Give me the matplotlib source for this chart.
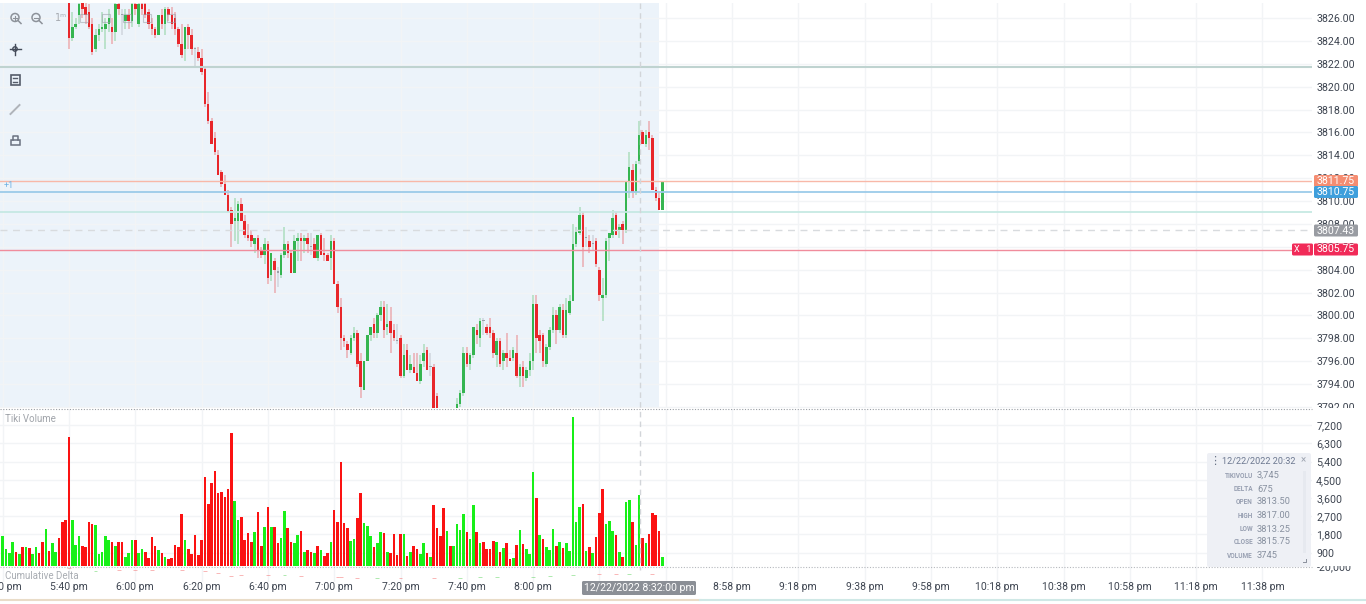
import numpy as np
import matplotlib
matplotlib.use("Agg")
import matplotlib.pyplot as plt
from matplotlib.patches import FancyBboxPatch, Rectangle, Circle

plt.rcParams['font.family'] = ['Roboto', 'DejaVu Sans']

# one bar per minute, candles only come into view at bar 20 (the earlier ones are above the pane)
CANDLE_START = 20

opens = [
    3827.5,3824.25,3825.25,3826.25,3827.5,3827,3826.5,3825.5,3823.25,3824.5,
    3825,3825,3825.5,3825.25,3824.75,3827.25,3826.25,3825.75,3826.25,3825.75,
    3827.25,3825.5,3827.25,3827.25,3826.5,3825.5,3825,3824.5,3826.25,3825.5,
    3826.75,3826.25,3826,3825,3823.75,3823.25,3825.25,3824.5,3823.25,3823,
    3822.5,3821.5,3818.5,3817,3815.5,3814,3812.5,3811.5,3810.5,3809.25,
    3808.25,3808.25,3809.75,3808.25,3807,3807,3806.25,3806.75,3805.75,3805.25,
    3806.25,3803.5,3804.75,3803.75,3803.5,3805.25,3806.25,3805.5,3803.75,3806.5,
    3806.75,3806.5,3806.75,3806,3806.25,3805,3807,3805.5,3805.25,3805,
    3806.5,3802.75,3800.75,3798,3797.5,3796.75,3798,3798.5,3796,3793.5,
    3796,3798.25,3799.25,3798.5,3800,3800.75,3799,3799.5,3798.75,3797.75,
    3798,3794.75,3797,3795.25,3795.5,3795,3794.25,3796,3797,3795.5,
    3795.5,3793,3791.25,3790.75,3791,3790.5,3790.75,3791.5,3792.25,3793.25,
    3796.75,3795.75,3796.5,3798.75,3798,3799.5,3799,3799,3798.5,3796.5,
    3797.75,3796,3796.75,3796.25,3796.25,3796.75,3794.75,3795.5,3794.5,3795.25,
    3796,3801,3798.25,3798.25,3795.75,3797.25,3798.75,3800,3798.75,3800.5,
    3798.25,3800.25,3801.25,3806.25,3807.25,3808.75,3806.75,3806.5,3806.25,3806.5,
    3804,3801.5,3801.75,3806.75,3807,3808.75,3807.5,3808,3807.5,3811.75,
    3812.75,3810.75,3813.5,3816,3815,3816,3815.5,3811,3810.25,3809.25,
]
highs = [
    3828,3826.5,3826,3827.5,3828,3827.5,3827.25,3826,3825,3825.5,
    3826.5,3826,3826.75,3826,3827.5,3827.5,3826.75,3826.75,3826.75,3827.5,
    3827.5,3827.5,3827.5,3827.5,3826.75,3826,3825.25,3826.25,3826.75,3827,
    3827,3827,3826.5,3825.25,3825.5,3825.25,3825.5,3825,3823.5,3823.5,
    3823.25,3821.75,3819.5,3817.25,3816,3814.5,3812.75,3812.25,3811,3809.5,
    3810.25,3810,3810.25,3808.75,3808,3807.5,3806.75,3807,3806,3806.75,
    3806.5,3805.5,3805,3804.25,3805.5,3807.75,3806.5,3805.75,3807,3807.25,
    3807.25,3807,3807.25,3807.25,3806.75,3807,3807.25,3806.75,3805.5,3807,
    3806.75,3803,3801.5,3798.25,3797.75,3798.25,3799,3798.75,3796.75,3796,
    3798.25,3799,3799.75,3800.25,3801.25,3801.25,3801,3800.75,3799.25,3799.25,
    3798.25,3797.5,3797.5,3796.5,3796.75,3796.75,3796.5,3797.5,3797.25,3796.75,
    3795.75,3793.25,3791.5,3791.25,3791.25,3791,3791.25,3792.75,3793.5,3797.25,
    3797.25,3796.75,3799,3799.25,3799.75,3799.75,3799.25,3799.75,3798.75,3798,
    3798,3797,3798.5,3797,3797.25,3798.25,3795.75,3796,3795.5,3796.75,
    3801.75,3801.75,3798.75,3798.5,3797.5,3799,3800.75,3800.5,3801,3801,
    3801.5,3801.75,3808,3807.75,3809.5,3809,3807.75,3807,3807,3806.75,
    3804.25,3803.25,3806.75,3807.25,3809.25,3809,3808,3808.25,3811.75,3814.25,
    3813.25,3813.5,3817,3816.25,3816.25,3817,3815.75,3811.25,3810.75,3811.75,
]
lows = [
    3823.25,3824,3825,3825.5,3826,3825.5,3825,3822.75,3823,3824,
    3824.75,3823.25,3824.75,3823.75,3824,3826.25,3824.5,3825,3825,3825.25,
    3826.25,3825.25,3826.25,3826,3825,3824.5,3824.25,3824.5,3825,3824.5,
    3825.75,3825,3824.5,3823.5,3822.5,3822.25,3823.25,3822.75,3821.75,3822.25,
    3821,3818.25,3816.75,3815,3814,3812.25,3811.25,3810.5,3809,3806,
    3806.5,3806.25,3808.25,3806.75,3806.5,3806,3805.5,3805,3805,3804.5,
    3802.75,3803,3802,3802.5,3803.25,3805,3805,3803.75,3803.75,3804.75,
    3804.75,3805.5,3805.5,3805.25,3805.25,3804.75,3805.25,3804.75,3804.75,3804,
    3802.75,3800.25,3797,3797.25,3796.25,3796.5,3797.75,3795.5,3792.75,3793.5,
    3796,3797.75,3798,3798,3799.5,3798,3798.25,3796.75,3797.75,3797.5,
    3794.5,3794.5,3795.25,3795,3795,3794.25,3794,3795.5,3795.25,3794.75,
    3791.5,3791.5,3790.5,3790.25,3790,3790.25,3790.5,3791.25,3792,3793,
    3795.5,3795.25,3796.25,3797.5,3797.25,3798.25,3798.25,3798,3796.25,3795.5,
    3795.5,3795.25,3795.5,3796,3796,3794.5,3793.75,3793.75,3794.25,3794.75,
    3795.25,3796.75,3796.75,3795.5,3795.5,3797,3798.5,3797.5,3798.5,3798,
    3798,3800,3801.25,3806,3807,3804.25,3806,3805.5,3805.75,3804.25,
    3801.25,3799.5,3801.5,3804.75,3806.75,3807,3806.75,3806.25,3807.25,3810.25,
    3810.25,3810.5,3813.25,3815,3814.75,3814.5,3811,3810,3809.25,3809.25,
]
closes = [
    3824.25,3825.25,3825.5,3827.25,3826.75,3826.25,3825.25,3823,3824.5,3825,
    3825.25,3825.5,3826,3824.75,3827.25,3826.75,3826.25,3826.25,3825.75,3827.25,
    3826.75,3827.25,3826.75,3826.25,3825.5,3825,3824.5,3826.25,3825.5,3826.75,
    3826.25,3825.5,3825,3823.75,3822.75,3825.25,3824.5,3823.25,3823.25,3822.5,
    3821.25,3818.5,3817,3815,3814.25,3812.25,3811.5,3810.5,3809,3808,
    3808.5,3809.75,3808.25,3807,3806.75,3806.5,3806.75,3805.75,3805.25,3806.25,
    3803.25,3805.5,3804,3803.75,3805.25,3806.25,3805.5,3803.75,3806.5,3806.75,
    3806.5,3806.75,3806.25,3806,3805,3807,3805.25,3805.25,3804.75,3806.5,
    3802.75,3800.75,3798,3797.75,3797,3798,3798.5,3795.75,3793.75,3796,
    3798.25,3799,3798.5,3800,3800.75,3798.75,3799.25,3798.5,3798,3797.75,
    3794.75,3796.5,3795.25,3795.75,3795,3794.25,3795.75,3796.75,3795.25,3795.5,
    3791.5,3791.5,3790.75,3791,3790.5,3790.75,3791.25,3792.25,3793.25,3796.75,
    3795.75,3796.5,3799,3798.25,3799.5,3799.5,3798.5,3798.5,3796.75,3797.75,
    3795.75,3796.75,3796.25,3796,3797,3794.75,3795.5,3794.75,3795.25,3796,
    3801,3798,3797.75,3796,3797.25,3798.75,3800,3798.75,3800.75,3798.25,
    3800.5,3801.25,3806.25,3807.25,3808.75,3806,3806.75,3806,3806.25,3804.5,
    3801.75,3801.75,3806.5,3807.25,3808.5,3807,3807.75,3807.5,3811.75,3813,
    3810.75,3813.25,3815.75,3815,3815.75,3815.5,3811,3810.25,3809.25,3811.75,
]

volumes = [
    1720,1080,865,1410,915,815,1160,1160,1145,815,
    1160,865,1425,2070,1000,1375,950,1605,2400,2530,
    6600,2530,1280,1720,1210,1160,2430,2315,2265,850,
    950,1720,1540,1440,1245,1440,1410,670,900,1540,
    1540,865,1080,915,620,1670,1230,1030,865,700,
    570,620,1260,1180,2795,1540,1095,815,1790,800,
    1540,4620,3320,4325,4935,3865,3900,3635,4030,6800,
    3470,2530,2680,1525,1870,1425,1920,2910,1245,2170,
    3140,2170,2170,1375,1640,2975,2120,1410,1360,1790,
    1955,950,1045,930,865,1230,1015,750,880,1440,
    3010,2400,5365,2350,2135,1490,1575,2595,3830,2350,
    2235,1720,1160,1360,1905,1855,915,865,1840,780,
    1820,1805,735,930,1245,1095,850,1360,865,700,
    3255,2100,1740,3090,1985,1245,1245,2300,2020,2825,
    1905,1555,3255,1905,1360,1425,1095,1095,1475,1410,
    950,1110,1390,570,620,1295,2020,1345,1065,830,
    4870,3585,1790,1555,1180,1030,2070,1245,1425,1110,
    1360,980,7605,2415,3155,3290,1000,1160,900,1655,
    2845,4060,2300,2480,1955,1755,930,685,3420,3520,
    2415,1295,3745,1640,1360,1805,2845,2760,1970,670,
]
vol_dir = ("GGGGRGRGRG" "GRRGRGGRRR" "RGGGRRRRGG" "GGGRGRRGGG" "RGGRRRRGRG"
           "RRRRRGRRRR" "RRRRRRRRRR" "GGRRRRGRRG" "RGRRGGRRGG" "RGRRGRGRRG"
           "RRRRRGGRRG" "GGRGGRGRRR" "RGRGRRGGRG" "RRRRGRGGGG" "RGGRGRRRRG"
           "RGRRGRGRGG" "GRGRGGGRGR" "GGGGGRGRGR" "RRGGGRGRGG" "RGGRGRRRRG")

# cumulative delta is only faint specks in the reference, read at a few bars
delta_bars = [20, 28, 35, 40, 45, 54, 61, 65, 69, 72, 80, 85, 90, 101,
              102, 107, 113, 120, 130, 138, 144, 149, 160, 165, 172, 180, 185, 189, 196]
delta_vals = [-22000, -24500, -24000, -24000, -24000, -24000, -25000, -27000, -30000, -29000,
              -29000, -29000, -30000, -31000, -31000, -32000, -32000, -32000, -32000, -32000,
              -31000, -31000, -31000, -30000, -29000, -28000, -28000, -28000, -28000]

price_ticks = np.arange(3792, 3827, 2)
vol_ticks = [900, 1800, 2700, 3600, 4500, 5400, 6300, 7200]
time_bars = list(range(0, 400, 20))
time_labels = ["5:20 pm", "5:40 pm", "6:00 pm", "6:20 pm", "6:40 pm", "7:00 pm", "7:20 pm", "7:40 pm",
               "8:00 pm", "", "", "8:58 pm", "9:18 pm", "9:38 pm", "9:58 pm", "10:18 pm", "10:38 pm",
               "10:58 pm", "11:18 pm", "11:38 pm"]

tooltip_names = ["TIKIVOLU", "DELTA", "OPEN", "HIGH", "LOW", "CLOSE", "VOLUME"]
tooltip_vals = ["3,745", "675", "3813.50", "3817.00", "3813.25", "3815.75", "3745"]

W, H = 1366, 604
RED, GREEN, GREY = "#e8262a", "#35b550", "#9aa0a8"
TXT = "#3d4450"
GRID = "#f2f4f6"


def pane(top, bottom, right=1312):
    return [0, 1 - bottom / H, right / W, (bottom - top) / H]


fig = plt.figure(figsize=(W / 100, H / 100), dpi=100, facecolor="white")
ax = fig.add_axes(pane(3, 408))
ax_vol = fig.add_axes(pane(409, 566))
ax_delta = fig.add_axes(pane(566, 582))

xlim = (-0.814, 394.96)
for a in (ax, ax_vol, ax_delta):
    a.set_xlim(*xlim)
    a.set_facecolor("none")
    for s in a.spines.values():
        s.set_visible(False)
    a.set_xticks(time_bars)
    a.grid(True, color=GRID, lw=1)
    a.set_axisbelow(True)
    a.tick_params(length=0)

# candles
x = np.arange(len(opens)) + CANDLE_START
o, h, l, c = map(np.array, (opens, highs, lows, closes))
colors = np.where(c > o, GREEN, np.where(c < o, RED, GREY))
ax.set_ylim(3791.91, 3827.31)
ax.axvspan(xlim[0], 198, color="#ecf3fa", lw=0, zorder=0)
ax.vlines(x, l, h, colors=colors, lw=1.1, alpha=0.35, zorder=3)
ax.bar(x, np.maximum(np.abs(c - o), 0.1), bottom=np.minimum(o, c), width=0.75, color=colors, lw=0, zorder=4)

# horizontal levels
ax.axhline(3821.7, color="#bfd3d0", lw=1.5, zorder=5)
ax.axhline(3811.75, color="#f8b8a8", lw=1, zorder=5)
ax.axhline(3810.75, color="#9ccbe9", lw=1.3, zorder=5)
ax.axhline(3809.0, color="#c6e9e3", lw=1.3, zorder=5)
ax.axhline(3807.43, color="#d8dbde", lw=1, ls=(0, (5, 4)), zorder=5)
ax.axhline(3805.75, color="#f08c9c", lw=1, zorder=5)

ax.yaxis.tick_right()
ax.set_yticks(price_ticks)
ax.set_yticklabels([f"{p:.2f}" for p in price_ticks], fontsize=7.7, color=TXT)
ax.tick_params(axis="y", pad=3)
ax.tick_params(axis="x", labelbottom=False)

# volume
vol_colors = ["#18f018" if d == "G" else "#fb1212" for d in vol_dir]
ax_vol.set_ylim(240, 8000)
ax_vol.bar(np.arange(len(volumes)), volumes, width=0.78, color=vol_colors, lw=0, zorder=3)
ax_vol.yaxis.tick_right()
ax_vol.set_yticks(vol_ticks)
ax_vol.set_yticklabels([f"{v:,}" for v in vol_ticks], fontsize=7.7, color=TXT)
ax_vol.tick_params(axis="y", pad=3)
ax_vol.tick_params(axis="x", labelbottom=False)

# cumulative delta
ax_delta.set_ylim(-36000, -20000)
ax_delta.scatter(delta_bars, delta_vals, marker="_", s=8, linewidths=0.7, alpha=0.35, zorder=3,
                 c=["#18c018" if vol_dir[b] == "G" else "#f03030" for b in delta_bars])
ax_delta.set_yticks([])
ax_delta.set_xticklabels(time_labels, fontsize=7.5, color=TXT)
ax_delta.tick_params(axis="x", pad=0)

# everything else sits on a pixel overlay
ov = fig.add_axes([0, 0, 1, 1], facecolor="none")
ov.set_xlim(0, W)
ov.set_ylim(H, 0)
ov.axis("off")


def pill(x0, x1, yc, color, text, size=7.6, hgt=12):
    ov.add_patch(FancyBboxPatch((x0 + 1.5, yc - hgt / 2 + 1.5), x1 - x0 - 3, hgt - 3,
                                boxstyle="round,pad=1.5", fc=color, ec="none", zorder=6))
    ov.text((x0 + x1) / 2, yc, text, color="white", fontsize=size, ha="center", va="center", zorder=7)


# pane separators
ov.plot([0, 1312], [408.5, 408.5], color="#9a9ea4", lw=0.8, ls=(0, (1, 1.5)))
ov.plot([0, 1312], [566.5, 566.5], color="#b5b8bd", lw=0.8, ls=(0, (1, 1.5)))
# crosshair
ov.plot([640, 640], [3, 570], color="#d2d5d9", lw=1, ls=(0, (4, 3)))

# cut-off axis labels
ov.add_patch(Rectangle((1313, 408), 50, 8, fc="white", ec="none", zorder=2))
ov.text(1317, 567, "-20,000", fontsize=7.7, color=TXT, va="center", zorder=2)
ov.add_patch(Rectangle((1313, 558), 50, 8, fc="white", ec="none", zorder=2))

# price tags
pill(1314, 1358, 181, "#f58d72", "3811.75")
pill(1314, 1358, 192, "#3f9fdc", "3810.75")
pill(1314, 1358, 230.5, "#999ca2", "3807.43")
pill(1314, 1358, 249.5, "#f12a58", "3805.75")
pill(1292, 1313, 249.5, "#f12a58", "X   1", size=6.5)
pill(582, 696, 588, "#8b8f96", "12/22/2022 8:32:00 pm", size=7.6, hgt=14)

# pane titles
ov.text(5, 419, "Tiki Volume", fontsize=7, color="#a0a4aa", va="center")
ov.text(5, 576, "Cumulative Delta", fontsize=7, color="#a8acb2", va="center")
ov.text(4, 186, "+1", fontsize=6.5, color="#6fb3e4", va="center")

# toolbar
for cx in (15, 36):
    ov.add_patch(Circle((cx, 17.5), 4, fc="none", ec="#8d929a", lw=1.1))
    ov.plot([cx + 3, cx + 6], [20.5, 23.5], color="#8d929a", lw=1.1)
    ov.plot([cx - 2, cx + 2], [17.5, 17.5], color="#8d929a", lw=0.8)
ov.plot([15, 15], [15.5, 19.5], color="#8d929a", lw=0.8)
ov.text(55, 18, "1ᵐ", fontsize=7, color="#a6aab0", va="center", family=["DejaVu Sans"])
for tx in (84, 106, 127, 147, 171):
    ov.add_patch(Rectangle((tx - 4, 14), 8, 8, fc="none", ec="#9aa0a8", lw=0.8, alpha=0.55, zorder=6))
# crosshair tool
ov.add_patch(Circle((15, 49), 2.2, fc="none", ec="#454c5a", lw=1))
ov.plot([9.5, 20.5], [49, 49], color="#454c5a", lw=1)
ov.plot([15, 15], [43.5, 54.5], color="#454c5a", lw=1)
# notes tool
ov.add_patch(Rectangle((10.5, 75), 9, 9.5, fc="none", ec="#555c69", lw=1.2))
ov.plot([13, 17], [78, 78], color="#555c69", lw=1)
ov.plot([13, 17], [81.5, 81.5], color="#555c69", lw=1)
# pencil
ov.plot([10.5, 19.5], [114, 105], color="#b0b4ba", lw=1.4)
# lock
ov.add_patch(Rectangle((10.5, 139.5), 9, 5.5, fc="none", ec="#6a7180", lw=1.1))
ov.plot([12.5, 12.5, 17.5, 17.5], [139.5, 135.5, 135.5, 139.5], color="#6a7180", lw=1.1)

# tooltip box
ov.add_patch(FancyBboxPatch((1209, 455), 100, 110, boxstyle="round,pad=2", fc="#eef0f5", ec="none", alpha=0.95, zorder=8))
ov.text(1215, 461, "⋮", fontsize=8, color="#6b7488", ha="center", va="center", zorder=9, family=["DejaVu Sans"])
ov.text(1222, 461.5, "12/22/2022 20:32", fontsize=6.6, color="#6c7890", va="center", zorder=9)
ov.text(1303, 460, "×", fontsize=7, color="#a0a6b2", ha="center", va="center", zorder=9)
tooltip_y = [475.5, 489, 502, 515.5, 529, 542, 555.5]
for name, val, ty in zip(tooltip_names, tooltip_vals, tooltip_y):
    ov.text(1253, ty, name, fontsize=4.7, color="#98a0b2", ha="right", va="center", fontweight="bold", zorder=9)
    ov.text(1257, ty, val, fontsize=6.7, color="#87909f", va="center", zorder=9)
ov.plot([1303, 1306, 1306], [562, 562, 559], color="#8a909c", lw=0.7, zorder=9)
ov.add_patch(Rectangle((1303, 471), 2.5, 82, fc="#e6e9ef", ec="none", zorder=9))

# bottom strip
ov.plot([0, 700], [600, 600], color="#e9dcc8", lw=1.5)
ov.plot([700, 1366], [600, 600], color="#cfe8e6", lw=1.5)

fig.savefig("out.png", dpi=100)
